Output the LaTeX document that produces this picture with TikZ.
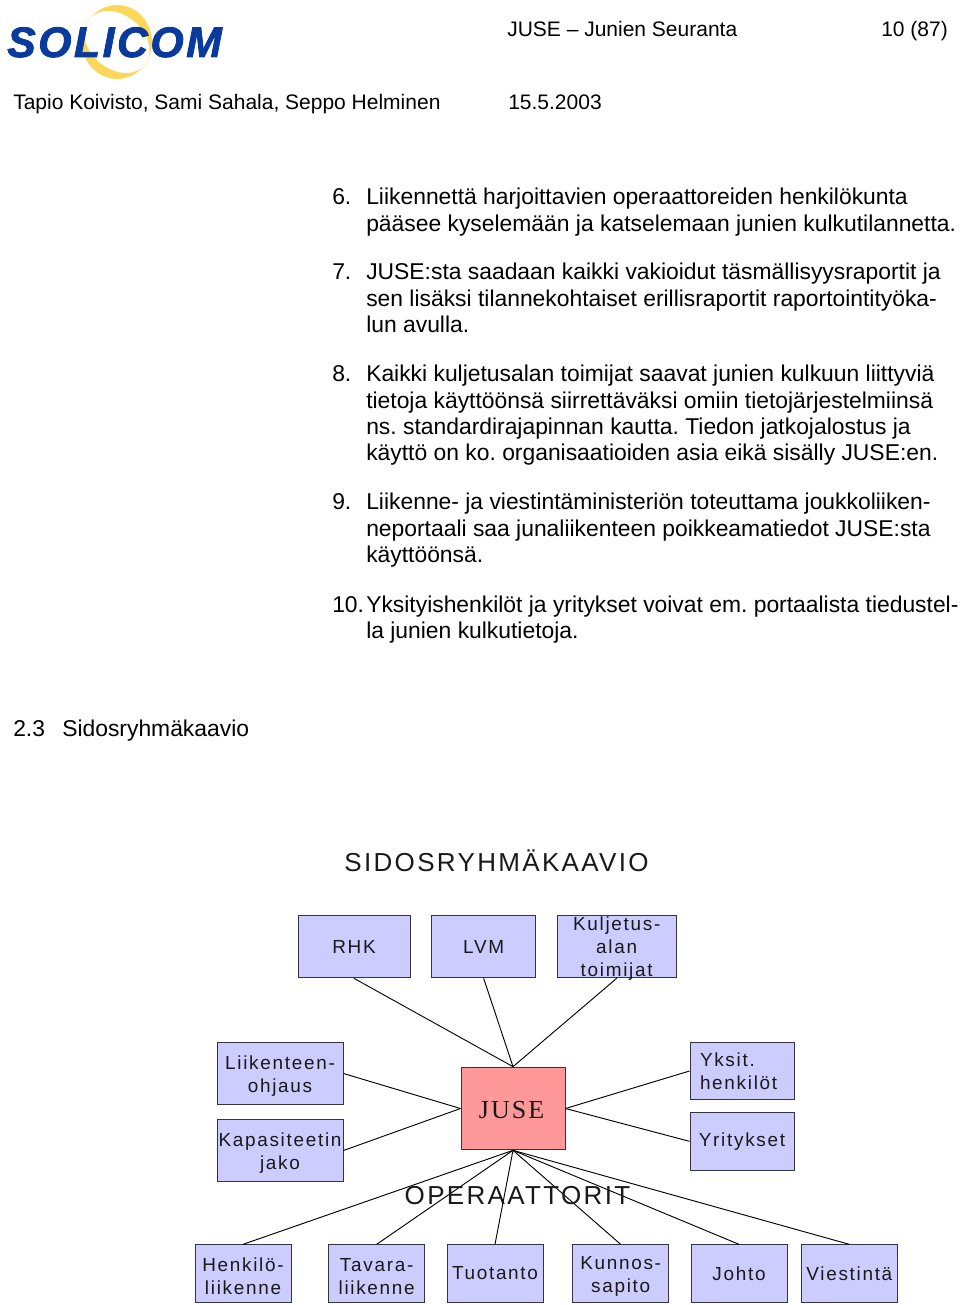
\documentclass[tikz,border=0pt]{standalone}
\usepackage{fontspec}
\usepackage{xcolor}
\usetikzlibrary{positioning}
\setmainfont{Liberation Sans}
\frenchspacing
\newfontfamily\diagfont[LetterSpace=9]{Liberation Sans}
\newfontfamily\jusefont[LetterSpace=8]{Liberation Serif}
\newfontfamily\logofont[BoldItalicFeatures={FakeBold=2,LetterSpace=6}]{Liberation Sans}
\newcommand{\lift}{\rule{0pt}{13.8pt}}
\definecolor{boxblue}{HTML}{CCCCFF}
\definecolor{boxred}{HTML}{FF9999}
\definecolor{boxline}{HTML}{333344}
\definecolor{logoblue}{HTML}{0A3A9C}
\definecolor{logoyellow}{HTML}{FBD85A}

\begin{document}
\begin{tikzpicture}[x=0.75pt, y=-0.75pt, align=center]
    \tikzstyle{plain} = [inner sep=0pt, align=left, anchor=north west, font=\fontsize{17.15}{19.75}\selectfont]
    \tikzstyle{head} = [inner sep=0pt, anchor=base west, font=\fontsize{15.75}{19.75}\selectfont]
    \tikzstyle{boxfont} = [text=black!90, font=\diagfont\fontsize{14.2}{17.2}\selectfont]
    \tikzstyle{box} = [rectangle, draw=boxline, fill=boxblue, line width=0.75pt, inner sep=0pt, boxfont]
    \tikzstyle{opbox} = [box, minimum width=72pt, minimum height=43pt]
    \tikzstyle{midbox} = [box, minimum width=78pt, minimum height=43pt]
    \tikzstyle{bigtext} = [inner sep=0pt, text=black!90, font=\diagfont\fontsize{19.5}{22}\selectfont]
    \tikzstyle{link} = [draw=black, line width=0.7pt]
    \useasboundingbox (0,0) rectangle (960,1305);

    % logo
    \fill [logoyellow, even odd rule] (117,42) ellipse [x radius=35, y radius=37]
        (117,42) ellipse [x radius=36, y radius=27, rotate=-40];
    \node [inner sep=0pt, anchor=base west, text=logoblue, font=\logofont\bfseries\itshape\fontsize{32}{32}\selectfont] (logo) at (7,57) {SOLICOM};

    % page header
    \node [head] (title) at (507,37) {JUSE – Junien Seuranta};
    \node [head] (page) at (881,37) {10 (87)};
    \node [head] (authors) at (13,110) {Tapio Koivisto, Sami Sahala, Seppo Helminen};
    \node [head] (date) at (508,110) {15.5.2003};

    % numbered items
    \node [plain] (n6) at (332,186) {\strut 6.};
    \node [plain] (t6) at (366,186) {\strut Liikennettä harjoittavien operaattoreiden henkilökunta\\pääsee kyselemään ja katselemaan junien kulkutilannetta.};
    \node [plain] (n7) at (332,261) {\strut 7.};
    \node [plain] (t7) at (366,261) {\strut JUSE:sta saadaan kaikki vakioidut täsmällisyysraportit ja\\sen lisäksi tilannekohtaiset erillisraportit raportointityöka-\\lun avulla.};
    \node [plain] (n8) at (332,363) {\strut 8.};
    \node [plain] (t8) at (366,363) {\strut Kaikki kuljetusalan toimijat saavat junien kulkuun liittyviä\\tietoja käyttöönsä siirrettäväksi omiin tietojärjestelmiinsä\\ns. standardirajapinnan kautta. Tiedon jatkojalostus ja\\käyttö on ko. organisaatioiden asia eikä sisälly JUSE:en.};
    \node [plain] (n9) at (332,491) {\strut 9.};
    \node [plain] (t9) at (366,491) {\strut Liikenne- ja viestintäministeriön toteuttama joukkoliiken-\\neportaali saa junaliikenteen poikkeamatiedot JUSE:sta\\käyttöönsä.};
    \node [plain] (n10) at (332,593.5) {\strut 10.};
    \node [plain] (t10) at (366,593.5) {\strut Yksityishenkilöt ja yritykset voivat em. portaalista tiedustel-\\la junien kulkutietoja.};
    \node [plain, anchor=base west] (secnum) at (13,736) {2.3};
    \node [plain, anchor=base west] (sectitle) at (62,736) {Sidosryhmäkaavio};

    % diagram
    \node [bigtext] (heading) at (496.5,860.5) {SIDOSRYHMÄKAAVIO};

    \node [box, minimum width=84pt, minimum height=47pt] (rhk) at (354,946.5) {RHK};
    \node [box, minimum width=78pt, minimum height=47pt, right=15.5pt of rhk] (lvm) {LVM};
    \node [box, minimum width=89pt, minimum height=47pt, right=15.5pt of lvm] (kulj) {};
    \node [boxfont, inner sep=0pt, yshift=-1.5pt] (kuljtext) at (kulj) {Kuljetus-\\alan\\toimijat};

    \node [box, fill=boxred, minimum width=78pt, minimum height=62pt, font=\jusefont\fontsize{19.5}{20}\selectfont] (juse) at (513,1108.5) {\rule{0pt}{15.2pt}JUSE\hspace{2pt}};

    \node [box, minimum width=94.5pt, minimum height=47pt] (liik) at (280,1073.5) {\lift Liikenteen-\\ohjaus};
    \node [box, minimum width=94.5pt, minimum height=47pt, below=10pt of liik] (kapa) {\lift Kapasiteetin\\jako};
    \node [midbox] (yksit) at (742,1071) {\parbox{63pt}{\raggedright Yksit.\\henkilöt}};
    \node [midbox, below=9pt of yksit] (yrit) {Yritykset};

    \node [opbox] (henk) at (243,1273.5) {\lift Henkilö-\\liikenne};
    \node [opbox, right=27.5pt of henk] (tava) {\lift Tavara-\\liikenne};
    \node [opbox, right=16pt of tava] (tuot) {Tuotanto};
    \node [opbox, right=21.5pt of tuot] (kunn) {\lift Kunnos-\\sapito};
    \node [opbox, right=16pt of kunn] (joht) {Johto};
    \node [opbox, right=10pt of joht] (vies) {Viestintä};

    \draw [link] (rhk.south) -- (juse.north);
    \draw [link] (lvm.south) -- (juse.north);
    \draw [link] (kulj.south) -- (juse.north);
    \draw [link] (liik.east) -- (juse.west);
    \draw [link] (kapa.east) -- (juse.west);
    \draw [link] (yksit.west) -- (juse.east);
    \draw [link] (yrit.west) -- (juse.east);
    \draw [link] (henk.north) -- (juse.south);
    \draw [link] (tava.north) -- (juse.south);
    \draw [link] (tuot.north) -- (juse.south);
    \draw [link] (kunn.north) -- (juse.south);
    \draw [link] (joht.north) -- (juse.south);
    \draw [link] (vies.north) -- (juse.south);

    \node [bigtext] (oper) at (517.5,1195.5) {OPERAATTORIT};
\end{tikzpicture}
\end{document}
